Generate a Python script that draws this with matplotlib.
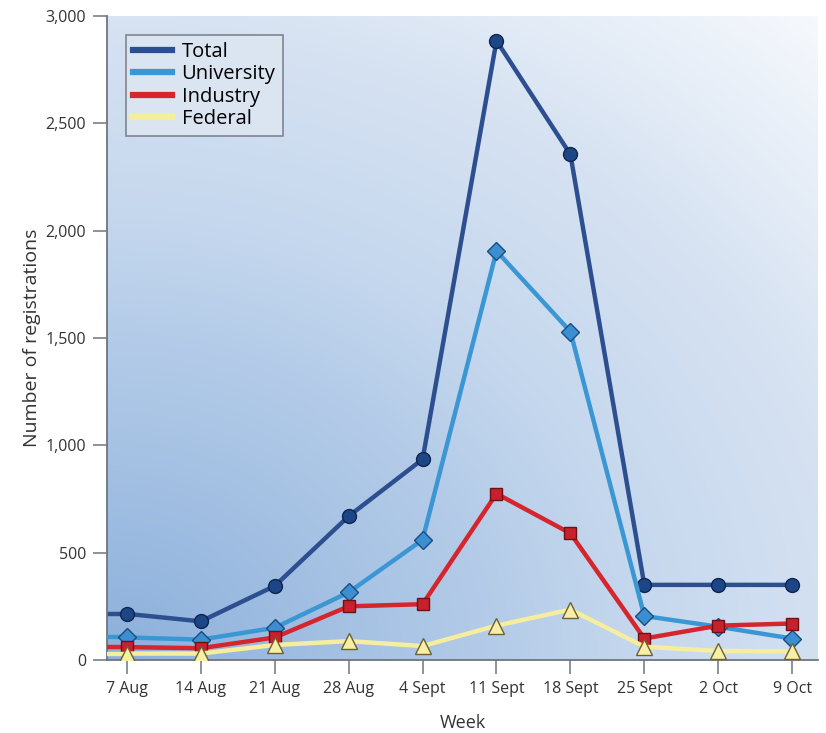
import numpy as np
import matplotlib.pyplot as plt
from matplotlib.colors import LinearSegmentedColormap

plt.rcParams['font.family'] = ['Open Sans', 'DejaVu Sans']

# data
weeks = ['7 Aug', '14 Aug', '21 Aug', '28 Aug', '4 Sept', '11 Sept',
         '18 Sept', '25 Sept', '2 Oct', '9 Oct']
total = [215, 180, 345, 670, 935, 2885, 2355, 350, 350, 350]
university = [105, 95, 150, 315, 560, 1905, 1530, 205, 155, 100]
industry = [60, 55, 105, 250, 260, 775, 590, 100, 160, 170]
federal = [30, 30, 70, 88, 65, 160, 235, 62, 42, 40]

series = [
    ('Total', total, '#2d4f8f', '#1d4686', '#0d2550', 'o', 10),
    ('University', university, '#3b97d3', '#3b8ecf', '#1a4c7f', 'D', 9),
    ('Industry', industry, '#d4262c', '#c8202c', '#6a1214', 's', 9),
    ('Federal', federal, '#f6ee9e', '#f8efa6', '#6b6134', '^', 11),
]

fig = plt.figure(figsize=(8.26, 7.33), dpi=100)
ax = fig.add_axes([107/826, 73/733, 711/826, 644/733])

x = np.arange(len(weeks))
xmin, xmax = -0.27, 9.35
ax.set_xlim(xmin, xmax)
ax.set_ylim(0, 3000)

# radial background, darkest at bottom left, near white at top right
cmap = LinearSegmentedColormap.from_list(
    'bg', [(0.0, '#8cb0db'), (0.35, '#b3cbe8'), (0.5, '#c6d8ee'),
           (0.7, '#d6e2f2'), (0.85, '#e8eff8'), (1.0, '#fafbfe')])
gx, gy = np.meshgrid(np.linspace(0, 1, 400), np.linspace(0, 1, 400))
r = np.sqrt((gx / 1.05) ** 2 + (gy / 0.97) ** 2)
ax.imshow(r, cmap=cmap, extent=[xmin, xmax, 0, 3000], origin='lower',
          aspect='auto', zorder=0, vmin=0, vmax=1.45)

z = 2
for name, vals, lc, fc, ec, mk, ms in series:
    # line runs on to the left axis edge
    ax.plot([xmin, x[0]], [vals[0], vals[0]], color=lc, lw=3.2, zorder=z,
            solid_capstyle='butt')
    ax.plot(x, vals, color=lc, lw=3.2, marker=mk, markersize=ms,
            markerfacecolor=fc, markeredgecolor=ec, markeredgewidth=1.0,
            label=name, zorder=z + 0.5)
    z += 1

ax.set_xticks(x)
ax.set_xticklabels(weeks)
ax.set_yticks([0, 500, 1000, 1500, 2000, 2500, 3000])
ax.set_yticklabels(['0', '500', '1,000', '1,500', '2,000', '2,500', '3,000'])
ax.tick_params(axis='both', direction='out', length=10, width=1.2,
               color='#7a8088', labelsize=11.5, labelcolor='#333333', pad=5)

for s in ['top', 'right']:
    ax.spines[s].set_visible(False)
for s in ['left', 'bottom']:
    ax.spines[s].set_color('#6d7580')
    ax.spines[s].set_linewidth(1.3)

ax.set_xlabel('Week', fontsize=13, color='#333333', labelpad=12)
ax.set_ylabel('Number of registrations', fontsize=14, color='#333333', labelpad=3)

leg = ax.legend(loc='upper left', bbox_to_anchor=(0.027, 0.971), frameon=True,
                fontsize=14.5, handlelength=1.9, handletextpad=0.5,
                labelspacing=0.12, borderpad=0.35, borderaxespad=0,
                fancybox=False)
for h in leg.legend_handles:
    h.set_marker('')
    h.set_linewidth(4.5)
leg.get_frame().set_edgecolor('#7d8590')
leg.get_frame().set_facecolor('#dbe5f2')
leg.get_frame().set_alpha(1)
leg.get_frame().set_linewidth(1.2)

fig.savefig('out.png', dpi=100)
